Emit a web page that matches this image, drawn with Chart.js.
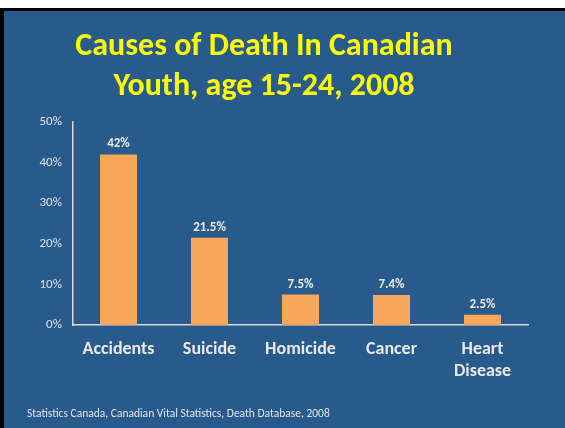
<!DOCTYPE html>
<html>
<head>
<meta charset="utf-8">
<script src="https://cdn.jsdelivr.net/npm/chart.js@4"></script>
<style>
  html, body { margin: 0; padding: 0; background: #ffffff; width: 565px; height: 428px; overflow: hidden; }
  #bg { position: absolute; left: 0; top: 8px; width: 565px; height: 420px; box-sizing: border-box;
        border-top: 3px solid #000; border-left: 4px solid #000; background: #285a8b; }
  #c { position: absolute; left: 0; top: 0; }
</style>
</head>
<body>
<div id="bg"></div>
<canvas id="c" width="565" height="428"></canvas>
<script>
const categories = ["Accidents", "Suicide", "Homicide", "Cancer", ["Heart", "Disease"]];
const values = [42, 21.5, 7.5, 7.4, 2.5];
const yTicks = [0, 10, 20, 30, 40, 50];
const titleLines = ["Causes of Death In Canadian", "Youth, age 15-24, 2008"];
const sourceNote = "Statistics Canada, Canadian Vital Statistics, Death Database, 2008";

const TEXT = '#e9e9e9';
const FONT = 'Carlito, Lato, "Open Sans", sans-serif';

const valueLabels = {
  id: 'valueLabels',
  afterDatasetsDraw(chart) {
    const ctx = chart.ctx;
    const meta = chart.getDatasetMeta(0);
    ctx.save();
    ctx.font = 'bold 13px ' + FONT;
    ctx.fillStyle = TEXT;
    ctx.textAlign = 'center';
    ctx.textBaseline = 'alphabetic';
    meta.data.forEach((bar, i) => {
      ctx.fillText(values[i] + '%', bar.x, bar.y - 7);
    });
    ctx.restore();
  }
};

const footerNote = {
  id: 'footerNote',
  afterDraw(chart) {
    const ctx = chart.ctx;
    ctx.save();
    ctx.font = '11.5px ' + FONT;
    ctx.fillStyle = '#dfe3ea';
    ctx.textAlign = 'left';
    ctx.textBaseline = 'alphabetic';
    ctx.fillText(sourceNote, 27, 417);
    ctx.restore();
  }
};

new Chart(document.getElementById('c'), {
  type: 'bar',
  data: {
    labels: categories,
    datasets: [{
      data: values,
      backgroundColor: '#f9a65a',
      borderWidth: 0,
      barPercentage: 1,
      categoryPercentage: 0.407
    }]
  },
  options: {
    responsive: false,
    animation: false,
    devicePixelRatio: 1,
    layout: { padding: { left: 0, right: 37, top: 0, bottom: 0 } },
    plugins: {
      legend: { display: false },
      tooltip: { enabled: false },
      title: {
        display: true,
        text: titleLines,
        color: '#ffff00',
        font: { family: FONT, size: 32, weight: 'bold', lineHeight: 40 / 32 },
        padding: { top: 27, bottom: 15 }
      }
    },
    scales: {
      x: {
        grid: { display: false, drawTicks: false },
        border: { display: true, color: '#d9d9d9', width: 1.5 },
        ticks: {
          color: TEXT,
          font: { family: FONT, size: 18, weight: 'bold', lineHeight: 1.22 },
          padding: 14,
          maxRotation: 0,
          autoSkip: false
        },
        afterFit(s) { s.height = 103; }
      },
      y: {
        min: 0,
        max: 50,
        grid: { display: false, drawTicks: false },
        border: { display: true, color: '#d9d9d9', width: 1.5 },
        afterBuildTicks(s) { s.ticks = yTicks.map(v => ({ value: v })); },
        ticks: {
          color: '#dce3ec',
          font: { family: FONT, size: 13 },
          padding: 11,
          callback: v => v + '%'
        },
        afterFit(s) { s.width = 73; }
      }
    }
  },
  plugins: [valueLabels, footerNote]
});
</script>
</body>
</html>
